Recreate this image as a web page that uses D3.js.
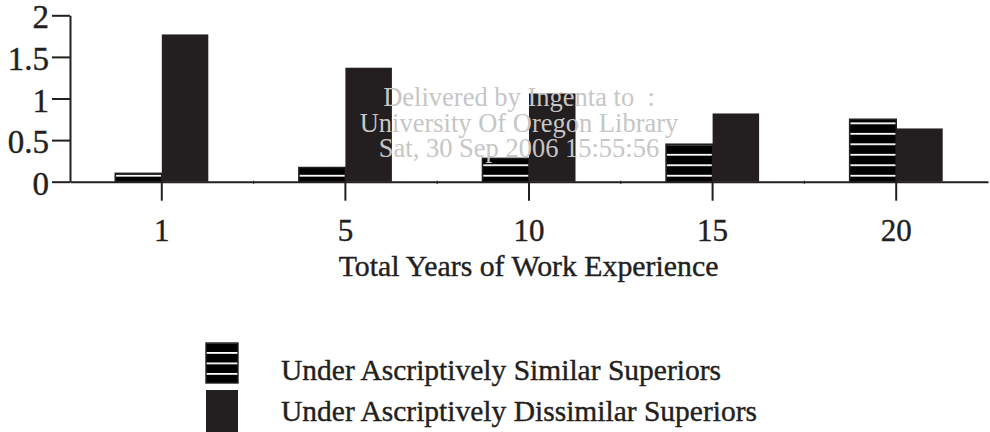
<!DOCTYPE html>
<html><head><meta charset="utf-8">
<script src="https://cdn.jsdelivr.net/npm/d3@7"></script>
<style>
html,body{margin:0;padding:0;background:#fff;}
svg{display:block;font-family:"Liberation Serif","Times New Roman",serif;}
</style>
</head><body>
<svg id="chart" width="990" height="432"></svg>
<script>
// ---- data ----
const categories = ["1", "5", "10", "15", "20"];
const seriesKeys = ["similar", "dissimilar"];
const seriesNames = ["Under Ascriptively Similar Superiors", "Under Ascriptively Dissimilar Superiors"];
const similarValues = [0.10, 0.17, 0.28, 0.45, 0.75];
const dissimilarValues = [1.77, 1.37, 1.06, 0.82, 0.64];
const yTickValues = [0, 0.5, 1, 1.5, 2];
const yTickLabels = ["0", "0.5", "1", "1.5", "2"];
const xAxisTitle = "Total Years of Work Experience";
const watermarkLines = ["Delivered by Ingenta to\u00a0 :", "University Of Oregon Library", "Sat, 30 Sep 2006 15:55:56"];

(function () {
const rows = categories.map((c, i) => ({cat: c, similar: similarValues[i], dissimilar: dissimilarValues[i]}));

// ---- layout ----
const ink = "#231f20";
const svg = d3.select("#chart");
const plotLeft = 70, plotRight = 988, plotTop = 15.3, plotBase = 181.7;

const y = d3.scaleLinear().domain([0, 2]).range([plotBase, plotTop]);
const x = d3.scaleBand().domain(categories).range([plotLeft, plotRight]).padding(0);
const xs = d3.scaleBand().domain(seriesKeys).range([0, x.bandwidth()]).paddingInner(0).paddingOuter(0.974);

// stripe pattern anchored to the baseline
const period = 10.48, lineW = 1.8;
const defs = svg.append("defs");
const pat = defs.append("pattern").attr("id", "stripes")
  .attr("patternUnits", "userSpaceOnUse")
  .attr("x", 0).attr("y", y(0) - 6 - lineW / 2)
  .attr("width", 990).attr("height", period);
pat.append("rect").attr("width", 990).attr("height", period).attr("fill", "#000");
pat.append("rect").attr("y", 0).attr("width", 990).attr("height", lineW).attr("fill", "#fff");

const pat2 = defs.append("pattern").attr("id", "stripesLegend")
  .attr("patternUnits", "userSpaceOnUse")
  .attr("x", 0).attr("y", 352)
  .attr("width", 990).attr("height", period);
pat2.append("rect").attr("width", 990).attr("height", period).attr("fill", "#000");
pat2.append("rect").attr("y", 0).attr("width", 990).attr("height", lineW).attr("fill", "#fff");

const fills = {similar: "url(#stripes)", dissimilar: ink};

// bars
const g = svg.append("g");
const groups = g.selectAll("g.grp").data(rows).join("g").attr("class", "grp")
  .attr("transform", d => `translate(${x(d.cat)},0)`);
groups.selectAll("rect").data(d => seriesKeys.map(k => ({key: k, value: d[k]}))).join("rect")
  .attr("x", d => xs(d.key))
  .attr("y", d => y(d.value))
  .attr("width", xs.bandwidth())
  .attr("height", d => y(0) - y(d.value))
  .attr("fill", d => fills[d.key])
  .attr("stroke", d => d.key === "similar" ? ink : "none")
  .attr("stroke-width", 1.6);

// y axis
const yAxis = svg.append("g").attr("transform", `translate(${plotLeft},0)`)
  .call(d3.axisLeft(y).tickValues(yTickValues).tickSize(18).tickSizeOuter(0).tickPadding(3)
    .tickFormat((d, i) => yTickLabels[i]));
yAxis.select(".domain").attr("stroke", ink).attr("stroke-width", 2);
yAxis.selectAll(".tick line").attr("stroke", ink).attr("stroke-width", 2);
yAxis.selectAll(".tick text").attr("fill", ink).attr("font-size", 33)
  .attr("stroke", ink).attr("stroke-width", 0.4)
  .attr("font-family", "Liberation Serif").attr("dy", "0.38em");

// x axis
const xAxis = svg.append("g").attr("transform", `translate(0,${y(0)})`)
  .call(d3.axisBottom(x).tickSize(19).tickSizeOuter(0).tickPadding(18.5));
xAxis.select(".domain").attr("stroke", ink).attr("stroke-width", 2);
xAxis.selectAll(".tick line").attr("stroke", ink).attr("stroke-width", 2);
xAxis.selectAll(".tick text").attr("fill", ink).attr("font-size", 31)
  .attr("stroke", ink).attr("stroke-width", 0.4)
  .attr("font-family", "Liberation Serif");
xAxis.selectAll("line.notch").data(categories.slice(1)).join("line").attr("class", "notch")
  .attr("x1", d => x(d)).attr("x2", d => x(d)).attr("y1", -1).attr("y2", 2)
  .attr("stroke", ink).attr("stroke-width", 1.2);

// axis title
svg.append("text").attr("x", (plotLeft + plotRight) / 2 - 0.5).attr("y", 276)
  .attr("text-anchor", "middle").attr("font-size", 29.8).attr("fill", ink)
  .attr("stroke", ink).attr("stroke-width", 0.4)
  .text(xAxisTitle);

// legend
const legend = svg.append("g");
const legendItems = legend.selectAll("g").data(seriesKeys).join("g");
legendItems.append("rect")
  .attr("x", 206).attr("y", (d, i) => i === 0 ? 343 : 390)
  .attr("width", 32).attr("height", (d, i) => i === 0 ? 40 : 42)
  .attr("fill", d => d === "similar" ? "url(#stripesLegend)" : ink)
  .attr("stroke", d => d === "similar" ? ink : "none").attr("stroke-width", 1.4);
legendItems.append("text")
  .attr("x", 281).attr("y", (d, i) => i === 0 ? 380 : 421)
  .attr("font-size", 29.5).attr("fill", ink)
  .attr("stroke", ink).attr("stroke-width", 0.4)
  .text((d, i) => seriesNames[i]);

// watermark
svg.append("g").selectAll("text").data(watermarkLines).join("text")
  .attr("x", 519).attr("y", (d, i) => 106 + i * 25.7)
  .attr("text-anchor", "middle").attr("font-size", 26.5).attr("fill", "#c6c6c6")
  .text(d => d);
})();
</script>
</body></html>
